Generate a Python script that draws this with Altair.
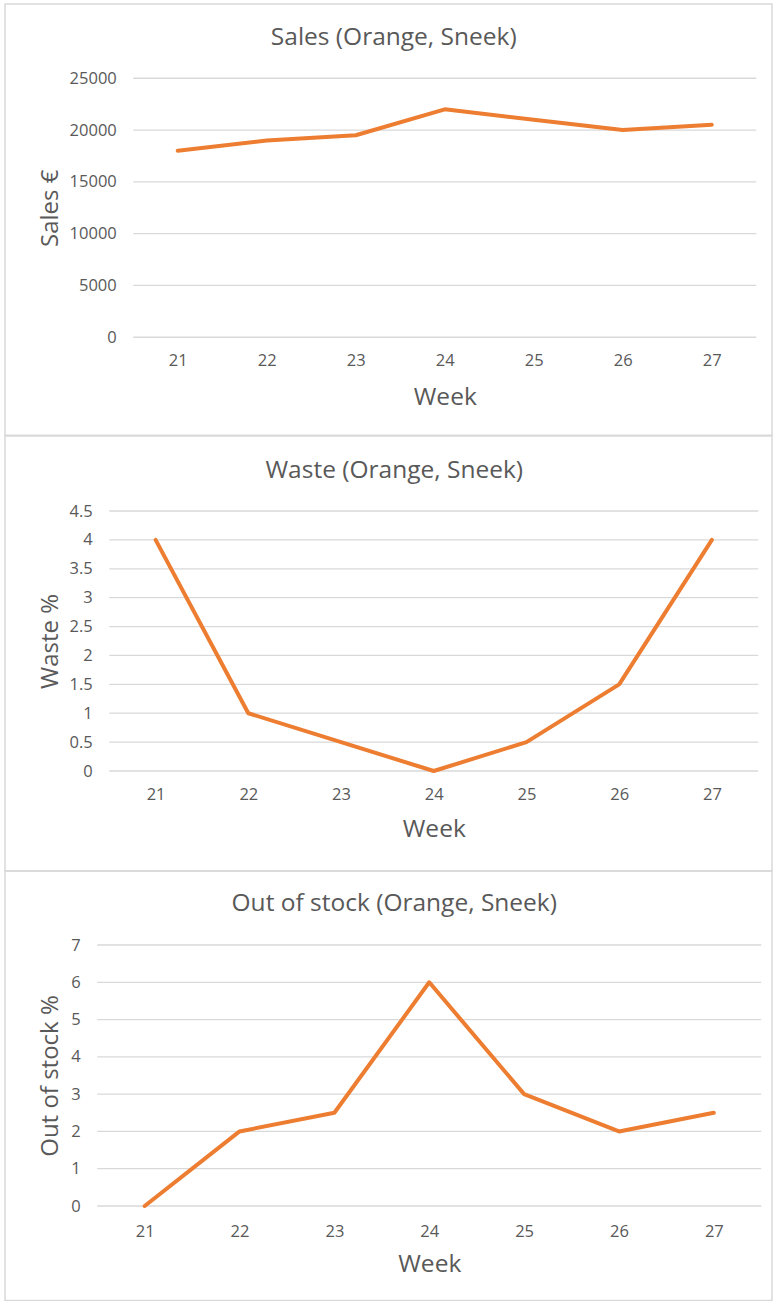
import altair as alt
import pandas as pd

# Weekly figures for oranges at the Sneek store
weeks = [21, 22, 23, 24, 25, 26, 27]
sales = [18000, 19000, 19500, 22000, 21000, 20000, 20500]
waste = [4, 1, 0.5, 0, 0.5, 1.5, 4]
out_of_stock = [0, 2, 2.5, 6, 3, 2, 2.5]

sales_ticks = [0, 5000, 10000, 15000, 20000, 25000]
waste_ticks = [0, 0.5, 1, 1.5, 2, 2.5, 3, 3.5, 4, 4.5]
stock_ticks = [0, 1, 2, 3, 4, 5, 6, 7]

chart_titles = ["Sales (Orange, Sneek)", "Waste (Orange, Sneek)", "Out of stock (Orange, Sneek)"]
y_titles = ["Sales €", "Waste %", "Out of stock %"]
x_title = "Week"

ORANGE = "#ED7D31"
GRID = "#D9D9D9"
INK = "#595959"
FONT = "Open Sans"
PANEL_W = 767


def panel(values, ticks, fmt, title, y_title, height, plot, title_xy, label_pad, x_title_y, y_title_x):
    """One framed chart: the view is the whole frame, the plot sits inside it."""
    left, right, top, bottom = plot

    y_scale = alt.Scale(domain=[ticks[0], ticks[-1]], range=[bottom, top], nice=False, zero=False)
    y_axis = alt.Axis(
        values=ticks, format=fmt, grid=False, domain=False, ticks=False, tickSize=0,
        labelFont=FONT, labelFontSize=16.5, labelColor=INK, labelPadding=17,
        offset=-left,
        title=y_title, titleFont=FONT, titleFontSize=24, titleFontWeight="normal",
        titleColor=INK, titleAngle=270, titleAlign="center", titleBaseline="alphabetic",
        titleX=y_title_x, titleY=(top + bottom) / 2,
    )
    x_axis = alt.Axis(
        labelAngle=0, domain=False, ticks=False, tickSize=0, grid=False,
        labelFont=FONT, labelFontSize=16.5, labelColor=INK, labelPadding=label_pad,
        labelBaseline="middle", offset=-(height - bottom),
        title=x_title, titleFont=FONT, titleFontSize=24.5, titleFontWeight="normal",
        titleColor=INK, titleAlign="center", titleBaseline="middle",
        titleX=(left + right) / 2, titleY=x_title_y,
    )

    grid = alt.Chart(pd.DataFrame({"tick": ticks})).mark_rule(
        color=GRID, strokeWidth=1.3
    ).encode(
        y=alt.Y("tick:Q", scale=y_scale, axis=y_axis),
        x=alt.value(left),
        x2=alt.value(right),
    )

    line = alt.Chart(pd.DataFrame({"week": weeks, "value": values})).mark_line(
        color=ORANGE, strokeWidth=4, strokeCap="round", strokeJoin="round"
    ).encode(
        x=alt.X("week:O", scale=alt.Scale(type="point", range=[left, right], padding=0.5), axis=x_axis),
        y=alt.Y("value:Q", scale=y_scale, axis=y_axis),
    )

    head = alt.Chart(pd.DataFrame({"t": [title]})).mark_text(
        font=FONT, fontSize=24.5, color=INK, align="center", baseline="middle"
    ).encode(
        x=alt.value(title_xy[0]),
        y=alt.value(title_xy[1]),
        text="t:N",
    )

    return alt.layer(grid, line, head).properties(width=PANEL_W, height=height)


p_sales = panel(sales, sales_ticks, "d", chart_titles[0], y_titles[0], 431.25,
                (128.25, 751.25, 74.25, 333.25), (388.75, 34.25), 23, 60, -75.5)
p_waste = panel(waste, waste_ticks, "~g", chart_titles[1], y_titles[1], 435,
                (104.25, 753.25, 75, 335), (389.25, 35), 23, 58, -51.5)
p_stock = panel(out_of_stock, stock_ticks, "d", chart_titles[2], y_titles[2], 429.5,
                (92.25, 756.25, 74, 335), (389.25, 33), 25, 58, -39.5)

chart = alt.vconcat(p_sales, p_waste, p_stock, spacing=0, bounds="flush").properties(
    padding={"left": 4, "top": 3, "right": 0, "bottom": 0},
    background="white",
).configure_view(stroke=GRID, strokeWidth=1.5)

chart.save("out.html", embed_options={"renderer": "svg", "actions": False})
